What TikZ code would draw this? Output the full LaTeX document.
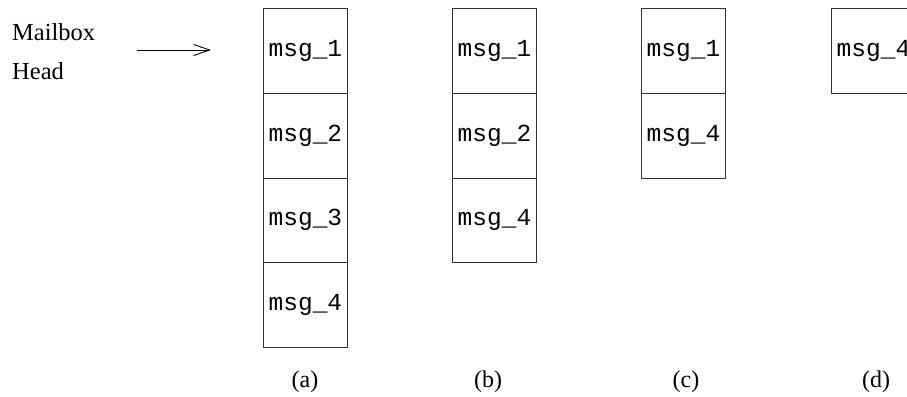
\documentclass[tikz,border=0pt]{standalone}
\usepackage{fontspec}
\setmainfont{Liberation Serif}
\setmonofont{Liberation Mono}
\usetikzlibrary{arrows.meta}
\begin{document}
\begin{tikzpicture}[x=1pt,y=-1pt,
  msgbox/.style={draw=black!80,line width=0.9pt,minimum width=84pt,minimum height=84.5pt,inner sep=0pt,anchor=north west,font=\ttfamily\fontsize{24.5}{24.5}\selectfont},
  caption/.style={font=\fontsize{24}{24}\selectfont},
  lbl/.style={font=\fontsize{24.5}{24.5}\selectfont,anchor=base west,inner sep=0pt}]
\useasboundingbox (0,0) rectangle (907,396);
% column a
\node[msgbox] (a1) at (263,8) {msg\_1};
\node[msgbox] (a2) at (263,93) {msg\_2};
\node[msgbox] (a3) at (263,177.5) {msg\_3};
\node[msgbox] (a4) at (263,262) {msg\_4};
% column b
\node[msgbox] (b1) at (452,8) {msg\_1};
\node[msgbox] (b2) at (452,93) {msg\_2};
\node[msgbox] (b3) at (452,177.5) {msg\_4};
% column c
\node[msgbox] (c1) at (641,8) {msg\_1};
\node[msgbox] (c2) at (641,93) {msg\_4};
% column d
\node[msgbox] (d1) at (831,8) {msg\_4};
% captions
\node[caption] (ca) at (305,382) {(a)};
\node[caption] (cb) at (488,382) {(b)};
\node[caption] (cc) at (686,382) {(c)};
\node[caption] (cd) at (876,382) {(d)};
% mailbox head
\node[lbl] (mb) at (12,41) {Mailbox};
\node[lbl] (hd) at (12,79) {Head};
\coordinate (as) at (137,50);
\coordinate (ae) at (211,50);
\draw[line width=0.9pt,-{Straight Barb[length=16pt,width=11pt,line width=0.9pt]}] (as) -- (ae);
\end{tikzpicture}
\end{document}
